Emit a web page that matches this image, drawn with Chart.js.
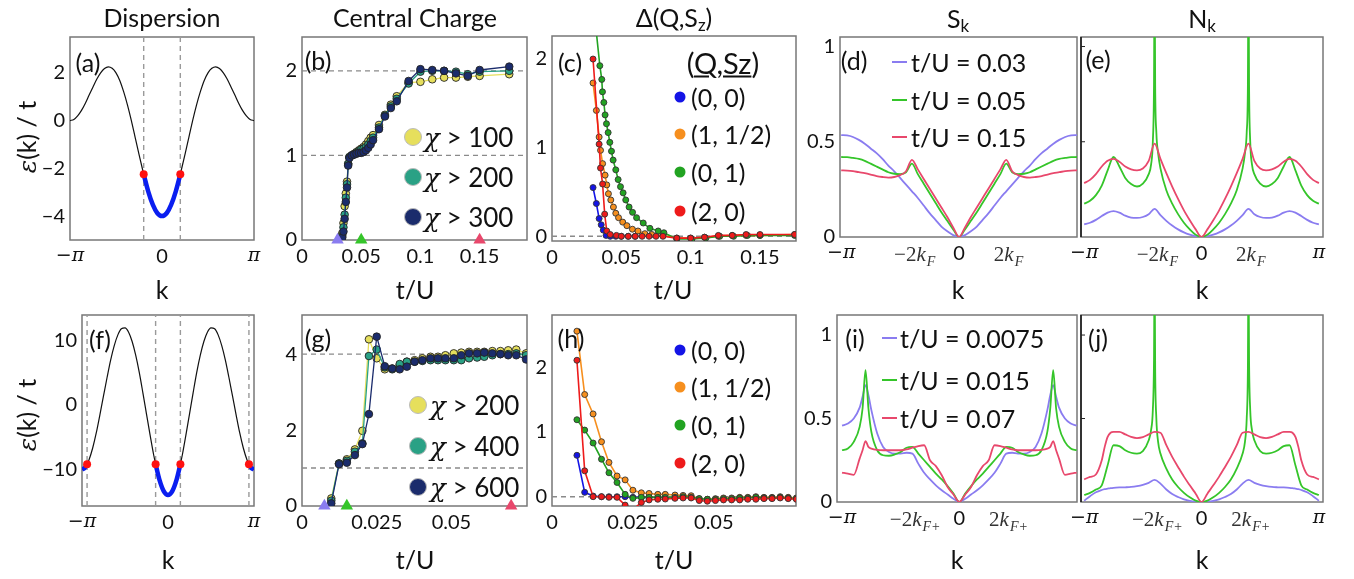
<!DOCTYPE html>
<html><head><meta charset="utf-8">
<script src="https://cdn.jsdelivr.net/npm/chart.js@4.4.1/dist/chart.umd.min.js"></script>
<style>
html,body{margin:0;padding:0;background:#fff;}
#root{position:relative;width:1354px;height:579px;overflow:hidden;font-family:Lato,sans-serif;color:#111;}
canvas{position:absolute;}
.t{position:absolute;transform:translate(-50%,-50%);white-space:nowrap;line-height:1;}
.t sub{font-size:68%;vertical-align:-0.28em;}
.lg{position:absolute;white-space:nowrap;line-height:1;transform:translateY(-50%);}
.dot{position:absolute;border-radius:50%;transform:translate(-50%,-50%);}
.seg{position:absolute;height:2px;transform:translateY(-50%);}
</style></head><body><div id="root"></div>
<script>
// ---------------- DATA ----------------
// dispersion grids (k in units of pi)
const kA = [-1,-0.958,-0.917,-0.875,-0.833,-0.792,-0.75,-0.708,-0.667,-0.625,-0.583,-0.542,-0.5,-0.458,-0.417,-0.375,-0.333,-0.292,-0.25,-0.208,-0.167,-0.125,-0.083,-0.042,0,0.042,0.083,0.125,0.167,0.208,0.25,0.292,0.333,0.375,0.417,0.458,0.5,0.542,0.583,0.625,0.667,0.708,0.75,0.792,0.833,0.875,0.917,0.958,1];
const epsA = [0,0.05,0.2,0.43,0.73,1.07,1.41,1.74,2,2.18,2.25,2.19,2,1.67,1.21,0.65,0,-0.7,-1.41,-2.1,-2.73,-3.26,-3.66,-3.91,-4,-3.91,-3.66,-3.26,-2.73,-2.1,-1.41,-0.7,0,0.65,1.21,1.67,2,2.19,2.25,2.18,2,1.74,1.41,1.07,0.73,0.43,0.2,0.05,0];
const blueAk = [-0.199,-0.15,-0.1,-0.05,0,0.05,0.1,0.15,0.199];
const blueAe = [-2.25,-2.96,-3.52,-3.88,-4,-3.88,-3.52,-2.96,-2.25];
const kFa = [-0.199,0.199];
const kFaE = [-2.25,-2.25];
const epsF = [-10,-9.61,-8.46,-6.64,-4.27,-1.52,1.41,4.32,7,9.25,10.91,11.85,12,11.33,9.88,7.72,5,1.89,-1.41,-4.69,-7.73,-10.33,-12.32,-13.57,-14,-13.57,-12.32,-10.33,-7.73,-4.69,-1.41,1.89,5,7.72,9.88,11.33,12,11.85,10.91,9.25,7,4.32,1.41,-1.52,-4.27,-6.64,-8.46,-9.61,-10];
const blueFk = [-0.144,-0.1,-0.05,0,0.05,0.1,0.144];
const blueFe = [-9.21,-11.61,-13.39,-14,-13.39,-11.61,-9.21];
const blueFLk = [-1,-0.97,-0.941];
const blueFLe = [-10,-9.8,-9.21];
const blueFRk = [0.941,0.97,1];
const blueFRe = [-9.21,-9.8,-10];
const kFf = [-0.941,-0.144,0.144,0.941];
const kFfE = [-9.21,-9.21,-9.21,-9.21];

// central charge
const chiB = [100,200,300];
const chiG = [200,400,600];
const ccColors = ['#e6df5c','#2aa185','#1b2c6c'];
const ccTB = [0.034,0.035,0.036,0.037,0.038,0.039,0.040,0.042,0.044,0.046,0.048,0.050,0.052,0.054,0.056,0.058,0.060,0.065,0.070,0.075,0.080,0.090,0.100,0.110,0.120,0.130,0.140,0.150,0.175];
const ccYellowB = [0.08,0.2,0.4,0.55,0.69,0.9,0.98,1.0,1.02,1.04,1.06,1.08,1.1,1.13,1.17,1.21,1.24,1.36,1.48,1.6,1.7,1.86,1.87,1.9,1.92,1.92,1.93,1.94,1.96];
const ccTealB = [0.05,0.15,0.3,0.5,0.66,0.9,0.98,1.0,1.01,1.03,1.05,1.07,1.08,1.1,1.13,1.17,1.21,1.33,1.47,1.58,1.67,1.85,1.99,2.0,2.0,1.99,1.96,1.99,2.0];
const ccNavyB = [0.03,0.1,0.25,0.45,0.62,0.88,0.97,1.0,1.01,1.02,1.03,1.03,1.04,1.06,1.09,1.13,1.18,1.31,1.46,1.56,1.64,1.88,2.02,2.01,2.0,1.97,1.94,2.01,2.05];
const ccTG = [0.0098,0.0124,0.015,0.0177,0.0202,0.0224,0.025,0.0277,0.0302,0.0327,0.0351,0.0377,0.0403,0.043,0.0455,0.048,0.0508,0.0533,0.0559,0.0586,0.061,0.0637,0.0664,0.069,0.0717,0.075];
const ccYellowG = [0.2,1.12,1.23,1.49,1.98,4.39,3.89,3.6,3.62,3.71,3.8,3.84,3.89,3.93,3.93,3.97,4.02,4.04,4.06,4.06,4.06,4.08,4.08,4.1,4.12,4.02];
const ccTealG = [0.14,1.12,1.19,1.43,1.65,3.95,4.12,3.65,3.6,3.74,3.8,3.8,3.82,3.84,3.84,3.84,3.84,3.84,3.89,3.91,3.93,3.97,4.0,4.0,4.02,3.97];
const ccNavyG = [0.07,1.1,1.14,1.34,1.63,2.42,4.46,3.68,3.62,3.6,3.67,3.8,3.84,3.89,3.89,3.89,3.89,3.97,4.02,4.02,4.04,4.02,4.0,3.97,3.97,3.86];
const refB = [1,2];
const refG = [1,4];
const markersB = [0.03,0.05,0.15];
const markersG = [0.0075,0.015,0.07];
const markerColors = ['#8a7cf0','#35c52a','#e8486c'];

// gaps
const gapLabels = ['(0, 0)','(1, 1/2)','(0, 1)','(2, 0)'];
const gapColors = ['#1414e6','#f68f1e','#22a322','#ee1b1b'];
const gapBlueTC = [0.0296,0.032,0.034,0.0355,0.037,0.039,0.042,0.046,0.050,0.055,0.060];
const gapBlueC = [0.55,0.37,0.2,0.13,0.07,0.01,0.0,0.0,0.0,0.0,0.0];
const gapOrangeTC = [0.0296,0.032,0.034,0.035,0.0365,0.0383,0.0395,0.0407,0.0424,0.0443,0.046,0.048,0.051,0.054,0.058,0.062,0.067,0.072,0.080,0.090,0.100,0.110,0.120,0.130,0.140,0.150,0.175];
const gapOrangeC = [1.73,1.42,1.12,0.97,0.82,0.69,0.58,0.48,0.41,0.33,0.26,0.21,0.16,0.12,0.08,0.06,0.03,0.02,0.01,-0.02,-0.02,-0.01,0.0,0.01,0.01,0.01,0.02];
const gapGreenTC = [0.031,0.0345,0.0359,0.0364,0.0374,0.0383,0.0393,0.0405,0.0417,0.0429,0.0441,0.046,0.0477,0.0494,0.0513,0.0532,0.0556,0.0581,0.061,0.0658,0.0706,0.0766,0.0807,0.090,0.101,0.111,0.121,0.131,0.141,0.150,0.175];
const gapGreenC = [2.45,1.925,1.77,1.63,1.51,1.37,1.27,1.17,1.06,0.96,0.86,0.75,0.64,0.56,0.49,0.41,0.33,0.27,0.21,0.15,0.09,0.06,0.04,-0.03,-0.03,-0.02,0.0,0.0,0.01,0.01,0.01];
const gapRedTC = [0.0296,0.034,0.035,0.0365,0.038,0.0395,0.042,0.0465,0.050,0.055,0.060,0.065,0.070,0.075,0.080,0.090,0.100,0.110,0.120,0.130,0.140,0.150,0.175];
const gapRedC = [2.0,1.04,0.77,0.59,0.25,0.06,0.02,0.01,0.0,0.0,0.0,0.0,0.0,0.0,0.0,-0.02,-0.02,-0.01,0.01,0.01,0.02,0.02,0.02];
const gapBlueTH = [0.0077,0.0101,0.0127,0.0153,0.0176,0.0201,0.0226,0.025,0.0276,0.030];
const gapBlueH = [0.64,0.067,0.01,0.0,0.0,0.0,0.0,-0.01,-0.01,-0.01];
const gapTH = [0.0077,0.0101,0.0127,0.0153,0.0176,0.0201,0.0226,0.025,0.0276,0.030,0.0327,0.035,0.038,0.0405,0.043,0.0455,0.048,0.0505,0.053,0.0555,0.058,0.0605,0.063,0.0655,0.068,0.0705,0.073,0.0755];
const gapOrangeH = [2.56,1.58,1.28,0.85,0.53,0.32,0.26,0.10,0.06,0.05,0.036,0.036,0.026,0.02,0.015,-0.03,-0.04,-0.03,-0.02,-0.02,-0.01,-0.01,0.0,-0.01,-0.01,0.0,-0.01,-0.02];
const gapGreenH = [1.19,1.03,0.83,0.58,0.37,0.22,0.036,-0.026,-0.01,-0.01,-0.01,-0.01,-0.01,0.0,-0.01,-0.03,-0.04,-0.04,-0.03,-0.03,-0.02,-0.02,-0.01,-0.02,-0.02,-0.01,-0.02,-0.03];
const gapRedH = [2.11,0.40,0.0,0.0,-0.01,-0.01,-0.13,-0.2,-0.09,-0.05,-0.04,-0.036,-0.026,-0.02,-0.02,-0.06,-0.07,-0.06,-0.05,-0.05,-0.05,-0.04,-0.04,-0.03,-0.03,-0.02,-0.03,-0.04];

// structure factors (k in units of pi)
const skColors = ['#8a7cf0','#35c52a','#e8486c'];
const tuTop = ['0.03','0.05','0.15'];
const tuBot = ['0.0075','0.015','0.07'];
const kG = [-1,-0.95,-0.9,-0.85,-0.8,-0.75,-0.7,-0.65,-0.6,-0.55,-0.5,-0.45,-0.4,-0.35,-0.3,-0.25,-0.2,-0.15,-0.1,-0.05,0,0.05,0.1,0.15,0.2,0.25,0.3,0.35,0.4,0.45,0.5,0.55,0.6,0.65,0.7,0.75,0.8,0.85,0.9,0.95,1];
const skPurpleD = [0.535,0.533,0.525,0.51,0.49,0.465,0.44,0.41,0.375,0.345,0.31,0.275,0.24,0.205,0.165,0.125,0.09,0.055,0.03,0.01,0,0.01,0.03,0.055,0.09,0.125,0.165,0.205,0.24,0.275,0.31,0.345,0.375,0.41,0.44,0.465,0.49,0.51,0.525,0.533,0.535];
const skGreenD = [0.42,0.419,0.415,0.41,0.4,0.385,0.37,0.355,0.34,0.332,0.33,0.34,0.385,0.33,0.28,0.23,0.18,0.13,0.085,0.04,0,0.04,0.085,0.13,0.18,0.23,0.28,0.33,0.385,0.34,0.33,0.332,0.34,0.355,0.37,0.385,0.4,0.41,0.415,0.419,0.42];
const skRedD = [0.35,0.349,0.346,0.34,0.335,0.328,0.32,0.315,0.312,0.315,0.325,0.345,0.405,0.355,0.305,0.255,0.205,0.155,0.105,0.05,0,0.05,0.105,0.155,0.205,0.255,0.305,0.355,0.405,0.345,0.325,0.315,0.312,0.315,0.32,0.328,0.335,0.34,0.346,0.349,0.35];
const nkPurpleE = [0.066,0.075,0.09,0.11,0.128,0.136,0.128,0.112,0.102,0.1,0.105,0.12,0.148,0.115,0.085,0.06,0.04,0.024,0.012,0.003,0,0.003,0.012,0.024,0.04,0.06,0.085,0.115,0.148,0.12,0.105,0.1,0.102,0.112,0.128,0.136,0.128,0.11,0.09,0.075,0.066];
const nkRedE = [0.283,0.3,0.33,0.37,0.4,0.41,0.395,0.37,0.355,0.35,0.36,0.4,0.49,0.41,0.335,0.265,0.2,0.14,0.088,0.04,0,0.04,0.088,0.14,0.2,0.265,0.335,0.41,0.49,0.4,0.36,0.35,0.355,0.37,0.395,0.41,0.4,0.37,0.33,0.3,0.283];
const kSpike = [-1,-0.95,-0.9,-0.85,-0.8,-0.75,-0.7,-0.65,-0.6,-0.55,-0.5,-0.45,-0.43,-0.415,-0.405,-0.4,-0.395,-0.385,-0.37,-0.35,-0.3,-0.25,-0.2,-0.15,-0.1,-0.05,0,0.05,0.1,0.15,0.2,0.25,0.3,0.35,0.37,0.385,0.395,0.4,0.405,0.415,0.43,0.45,0.5,0.55,0.6,0.65,0.7,0.75,0.8,0.85,0.9,0.95,1];
const nkGreenE = [0.175,0.19,0.22,0.27,0.35,0.42,0.37,0.31,0.278,0.265,0.28,0.33,0.38,0.5,0.8,1.4,0.8,0.55,0.44,0.36,0.245,0.175,0.12,0.075,0.04,0.012,0,0.012,0.04,0.075,0.12,0.175,0.245,0.36,0.44,0.55,0.8,1.4,0.8,0.5,0.38,0.33,0.28,0.265,0.278,0.31,0.37,0.42,0.35,0.27,0.22,0.19,0.175];
const kIJ = [-1,-0.95,-0.9,-0.85,-0.825,-0.8,-0.775,-0.75,-0.7,-0.65,-0.6,-0.55,-0.5,-0.45,-0.4,-0.35,-0.3,-0.25,-0.2,-0.15,-0.1,-0.05,0,0.05,0.1,0.15,0.2,0.25,0.3,0.35,0.4,0.45,0.5,0.55,0.6,0.65,0.7,0.75,0.775,0.8,0.825,0.85,0.9,0.95,1];
const skPurpleI = [0.457,0.47,0.5,0.565,0.63,0.7,0.64,0.55,0.41,0.33,0.3,0.29,0.29,0.295,0.29,0.23,0.175,0.135,0.1,0.07,0.045,0.02,0,0.02,0.045,0.07,0.1,0.135,0.175,0.23,0.29,0.295,0.29,0.29,0.3,0.33,0.41,0.55,0.64,0.7,0.63,0.565,0.5,0.47,0.457];
const skGreenI = [0.31,0.32,0.36,0.45,0.56,0.79,0.56,0.42,0.31,0.28,0.277,0.285,0.3,0.325,0.33,0.29,0.25,0.21,0.17,0.135,0.095,0.05,0,0.05,0.095,0.135,0.17,0.21,0.25,0.29,0.33,0.325,0.3,0.285,0.277,0.28,0.31,0.42,0.56,0.79,0.56,0.45,0.36,0.32,0.31];
const skRedI = [0.176,0.17,0.163,0.26,0.31,0.365,0.33,0.32,0.312,0.31,0.31,0.31,0.31,0.315,0.325,0.335,0.34,0.25,0.215,0.16,0.09,0.045,0,0.045,0.09,0.16,0.215,0.25,0.34,0.335,0.325,0.315,0.31,0.31,0.31,0.31,0.312,0.32,0.33,0.365,0.31,0.26,0.163,0.17,0.176];
const nkPurpleJ = [0.008,0.035,0.058,0.072,0.077,0.08,0.083,0.085,0.087,0.088,0.09,0.095,0.103,0.115,0.132,0.11,0.075,0.048,0.03,0.016,0.007,0.002,0,0.002,0.007,0.016,0.03,0.048,0.075,0.11,0.132,0.115,0.103,0.095,0.09,0.088,0.087,0.085,0.083,0.08,0.077,0.072,0.058,0.035,0.008];
const nkRedJ = [0.136,0.15,0.165,0.25,0.33,0.39,0.415,0.42,0.42,0.405,0.39,0.383,0.388,0.405,0.42,0.415,0.34,0.27,0.21,0.152,0.1,0.05,0,0.05,0.1,0.152,0.21,0.27,0.34,0.415,0.42,0.405,0.388,0.383,0.39,0.405,0.42,0.42,0.415,0.39,0.33,0.25,0.165,0.15,0.136];
const nkGreenJ = [0.042,0.055,0.075,0.1,0.22,0.34,0.335,0.31,0.295,0.29,0.305,0.37,0.43,0.55,0.85,1.4,0.8,0.5,0.36,0.29,0.2,0.135,0.09,0.055,0.028,0.008,0,0.008,0.028,0.055,0.09,0.135,0.2,0.29,0.36,0.5,0.8,1.4,0.85,0.55,0.43,0.37,0.305,0.29,0.295,0.31,0.335,0.34,0.22,0.1,0.075,0.055,0.042];

// ticks
const ticksXpi = [-1,0,1]; const labelsXpi = ['−π','0','π'];
const ticksYA = [-4,-2,0,2]; const labelsYA = ['−4','−2','0','2'];
const ticksYF = [-10,0,10]; const labelsYF = ['−10','0','10'];
const ticksXB = [0,0.05,0.1,0.15]; const labelsXB = ['0','0.05','0.1','0.15'];
const ticksY012 = [0,1,2]; const labelsY012 = ['0','1','2'];
const ticksXG = [0,0.025,0.05]; const labelsXG = ['0','0.025','0.05'];
const ticksYG = [0,2,4]; const labelsYG = ['0','2','4'];
const ticksXD = [-1,-0.398,0,0.398]; const labelsXD = ['−π','','0',''];
const ticksXE = [-1,-0.398,0,0.398,1]; const labelsXE = ['−π','','0','','π'];
const ticksYS = [0,0.5,1]; const labelsYS = ['0','0.5','1'];
const kfTicks = [-0.398,0.398]; const kfPre = ['−2','2'];

// ---------------- HELPERS ----------------
const root = document.getElementById('root');
const pts = (xs, ys) => xs.map((x, i) => ({x, y: ys[i]}));
const PAD = {l: 62, t: 22, r: 28, b: 40};
const TICKFONT = {family: 'Lato', size: 20};
const PIFONT = {family: '"DejaVu Serif", serif', size: 19, style: 'italic'};

const framePlugin = {id: 'frame', beforeDatasetsDraw(chart, a, o) {
  const c = chart.ctx, A = chart.chartArea;
  c.save(); c.strokeStyle = o.color || '#777'; c.lineWidth = 1.5;
  c.strokeRect(A.left, A.top, A.right - A.left, A.bottom - A.top);
  if (o.leftColor) { c.strokeStyle = o.leftColor; c.beginPath(); c.moveTo(A.left, A.top); c.lineTo(A.left, A.bottom); c.stroke(); }
  if (o.yMarks) { c.strokeStyle = '#222'; c.lineWidth = 1; o.yMarks.forEach(v => { const y = chart.scales.y.getPixelForValue(v); c.beginPath(); c.moveTo(A.left, y); c.lineTo(A.left + 4, y); c.stroke(); }); }
  c.restore();
}};
const kfPlugin = {id: 'kf', afterDraw(chart, a, o) {
  if (!o.items) return;
  const c = chart.ctx, xs = chart.scales.x, y0 = chart.chartArea.bottom + 24;
  o.items.forEach(it => {
    const cx = xs.getPixelForValue(it.v);
    c.save(); c.fillStyle = '#333'; c.textBaseline = 'alphabetic';
    const f1 = '21px "Liberation Serif", serif', f2 = 'italic 21px "Liberation Serif", serif', f3 = 'italic 14px "Liberation Serif", serif';
    c.font = f1; const w1 = c.measureText(it.pre).width;
    c.font = f2; const w2 = c.measureText('k').width;
    c.font = f3; const w3 = c.measureText(it.sub).width;
    let x = cx - (w1 + w2 + w3) / 2 + 2;
    c.font = f1; c.fillText(it.pre, x, y0); x += w1;
    c.font = f2; c.fillText('k', x, y0); x += w2 + 1;
    c.font = f3; c.fillText(it.sub, x, y0 + 5);
    c.restore();
  });
}};

function makeChart(box, cfg) {
  const cv = document.createElement('canvas');
  const w = box[2] - box[0] + PAD.l + PAD.r, h = box[3] - box[1] + PAD.t + PAD.b;
  cv.width = w; cv.height = h;
  cv.style.left = (box[0] - PAD.l) + 'px'; cv.style.top = (box[1] - PAD.t) + 'px';
  cv.style.width = w + 'px'; cv.style.height = h + 'px';
  root.appendChild(cv);
  cfg.datasets.forEach((d, i) => { if (d.order === undefined) d.order = -i; });
  return new Chart(cv, {
    type: 'scatter',
    data: {datasets: cfg.datasets},
    plugins: [framePlugin, kfPlugin],
    options: {
      responsive: false, animation: false, devicePixelRatio: 1,
      layout: {padding: {top: PAD.t, right: PAD.r, left: 0, bottom: 0}},
      plugins: {legend: {display: false}, tooltip: {enabled: false},
        frame: {color: cfg.frameColor || '#777', leftColor: cfg.leftColor, yMarks: cfg.yMarks},
        kf: {items: cfg.kf}},
      scales: {
        x: {type: 'linear', min: cfg.xr[0], max: cfg.xr[1],
          afterFit: s => { s.height = PAD.b; },
          afterBuildTicks: s => { s.ticks = cfg.xt.map(v => ({value: v})); },
          ticks: {callback: (v, i) => cfg.xl[i],
            font: ctx => (String(cfg.xl[ctx.index] || '').indexOf('π') >= 0 ? PIFONT : TICKFONT),
            color: '#111', padding: 5, maxRotation: 0, minRotation: 0, autoSkip: false},
          grid: {display: false, drawTicks: false}, border: {display: false}},
        y: {type: 'linear', min: cfg.yr[0], max: cfg.yr[1],
          afterFit: s => { s.width = PAD.l; },
          afterBuildTicks: s => { s.ticks = (cfg.yt || []).map(v => ({value: v})); },
          ticks: {display: !!cfg.yt, callback: (v, i) => cfg.yl[i], font: TICKFONT, color: '#111', padding: 5, autoSkip: false},
          grid: {display: false, drawTicks: false}, border: {display: false}}
      }
    }
  });
}
function curve(xs, ys, color, width, extra) {
  return Object.assign({data: pts(xs, ys), showLine: true, borderColor: color, backgroundColor: color, borderWidth: width, pointRadius: 0, cubicInterpolationMode: 'monotone'}, extra || {});
}
function dashedV(xs, yr) {
  return xs.map(x => ({data: [{x, y: yr[0]}, {x, y: yr[1]}], showLine: true, borderColor: '#9a9a9a', borderWidth: 1.4, borderDash: [5, 4], pointRadius: 0}));
}
function dashedH(ys, xr) {
  return ys.map(y => ({data: [{x: xr[0], y}, {x: xr[1], y}], showLine: true, borderColor: '#8a8a8a', borderWidth: 1.4, borderDash: [5, 4], pointRadius: 0}));
}
function ccSeries(xs, ys, color) {
  return {data: pts(xs, ys), showLine: true, borderColor: color, borderWidth: 1.3, pointRadius: 3.8, pointBackgroundColor: color, pointBorderColor: '#222', pointBorderWidth: 0.9};
}
function gapSeries(xs, ys, color) {
  return {data: pts(xs, ys), showLine: true, borderColor: color, borderWidth: 1.6, pointRadius: 3, pointBackgroundColor: color, pointBorderColor: '#333', pointBorderWidth: 0.9};
}
function triMarkers(xs) {
  return {data: xs.map(x => ({x, y: 0})), pointStyle: 'triangle', pointRadius: 7.2, pointBackgroundColor: markerColors, pointBorderWidth: 0, showLine: false, clip: false};
}
function text(html, x, y, size, cls, extraStyle) {
  const d = document.createElement('div');
  d.className = cls || 't'; d.innerHTML = html;
  d.style.left = x + 'px'; d.style.top = y + 'px'; d.style.fontSize = size + 'px';
  if (extraStyle) d.setAttribute('style', d.getAttribute('style') + ';' + extraStyle);
  root.appendChild(d); return d;
}

// ---------------- PANELS ----------------
// (a)
const yrA = [-5, 3.5];
makeChart([70, 37, 254, 240], {xr: [-1, 1], yr: yrA, xt: ticksXpi, xl: labelsXpi, yt: ticksYA, yl: labelsYA,
  datasets: [...dashedV(kFa, yrA), curve(kA, epsA, '#111', 1.2), curve(blueAk, blueAe, '#0a1ef0', 4.5),
    {data: pts(kFa, kFaE), pointRadius: 4, pointBackgroundColor: '#ff1010', pointBorderWidth: 0}]});
// (f)
const yrF = [-15.7, 14];
makeChart([82, 315, 254, 506], {xr: [-1, 1], yr: yrF, xt: ticksXpi, xl: labelsXpi, yt: ticksYF, yl: labelsYF,
  datasets: [...dashedV(kFf, yrF), curve(kA, epsF, '#111', 1.2), curve(blueFk, blueFe, '#0a1ef0', 4.5),
    curve(blueFLk, blueFLe, '#0a1ef0', 4.5), curve(blueFRk, blueFRe, '#0a1ef0', 4.5),
    {data: pts(kFf, kFfE), pointRadius: 4, pointBackgroundColor: '#ff1010', pointBorderWidth: 0}]});
// (b)
const xrB = [0, 0.19];
makeChart([302, 37, 527, 240], {xr: xrB, yr: [0, 2.4], xt: ticksXB, xl: labelsXB, yt: ticksY012, yl: labelsY012,
  datasets: [...dashedH(refB, xrB), ccSeries(ccTB, ccYellowB, ccColors[0]), ccSeries(ccTB, ccTealB, ccColors[1]), ccSeries(ccTB, ccNavyB, ccColors[2]), triMarkers(markersB)]});
// (g)
const xrG = [0, 0.0753];
makeChart([302, 315, 527, 506], {xr: xrG, yr: [0, 5.03], xt: ticksXG, xl: labelsXG, yt: ticksYG, yl: labelsYG,
  datasets: [...dashedH(refG, xrG), ccSeries(ccTG, ccYellowG, ccColors[0]), ccSeries(ccTG, ccTealG, ccColors[1]), ccSeries(ccTG, ccNavyG, ccColors[2]), triMarkers(markersG)]});
// (c)
const xrC = [0, 0.176];
makeChart([552, 36, 796, 241], {xr: xrC, yr: [-0.053, 2.26], xt: ticksXB, xl: labelsXB, yt: ticksY012, yl: labelsY012,
  datasets: [...dashedH([0], xrC), gapSeries(gapBlueTC, gapBlueC, gapColors[0]), gapSeries(gapOrangeTC, gapOrangeC, gapColors[1]),
    gapSeries(gapGreenTC, gapGreenC, gapColors[2]), gapSeries(gapRedTC, gapRedC, gapColors[3])]});
// (h)
const xrH = [0, 0.0754];
makeChart([552, 315, 796, 506], {xr: xrH, yr: [-0.144, 2.81], xt: ticksXG, xl: labelsXG, yt: ticksY012, yl: labelsY012,
  datasets: [...dashedH([0], xrH), gapSeries(gapBlueTH, gapBlueH, gapColors[0]), gapSeries(gapTH, gapOrangeH, gapColors[1]),
    gapSeries(gapTH, gapGreenH, gapColors[2]), gapSeries(gapTH, gapRedH, gapColors[3])]});
// (d)
makeChart([840, 37, 1077, 237], {xr: [-1.01, 1.0], yr: [0, 1.05], xt: ticksXD, xl: labelsXD, yt: ticksYS, yl: labelsYS,
  kf: kfTicks.map((v, i) => ({v, pre: kfPre[i], sub: 'F'})),
  datasets: [curve(kG, skPurpleD, skColors[0], 1.8), curve(kG, skGreenD, skColors[1], 1.8), curve(kG, skRedD, skColors[2], 1.8)]});
// (e)
makeChart([1081, 37, 1323, 237], {xr: [-1.027, 1.035], yr: [0, 1.05], xt: ticksXE, xl: labelsXE, yMarks: [0.5, 1],
  leftColor: '#111', kf: kfTicks.map((v, i) => ({v, pre: kfPre[i], sub: 'F'})),
  datasets: [curve(kG, nkPurpleE, skColors[0], 1.8), curve(kSpike, nkGreenE, skColors[1], 1.8), curve(kG, nkRedE, skColors[2], 1.8)]});
// (i)
makeChart([837, 315, 1077, 502], {xr: [-1.043, 1.003], yr: [0, 1.12], xt: ticksXD, xl: labelsXD, yt: ticksYS, yl: labelsYS,
  kf: kfTicks.map((v, i) => ({v, pre: kfPre[i], sub: 'F+'})),
  datasets: [curve(kIJ, skPurpleI, skColors[0], 1.8), curve(kIJ, skGreenI, skColors[1], 1.8), curve(kIJ, skRedI, skColors[2], 1.8)]});
// (j)
makeChart([1081, 315, 1323, 502], {xr: [-1.027, 1.035], yr: [0, 1.12], xt: ticksXE, xl: labelsXE, yMarks: [0.5, 1],
  leftColor: '#111', kf: kfTicks.map((v, i) => ({v, pre: kfPre[i], sub: 'F+'})),
  datasets: [curve(kIJ, nkPurpleJ, skColors[0], 1.8), curve(kSpike, nkGreenJ, skColors[1], 1.8), curve(kIJ, nkRedJ, skColors[2], 1.8)]});

// ---------------- TEXT ----------------
text('Dispersion', 162, 17, 25);
text('Central Charge', 415, 17, 25);
text('Δ(Q,S<sub>z</sub>)', 674, 19, 25);
text('S<sub>k</sub>', 958, 20, 25);
text('N<sub>k</sub>', 1202, 20, 25);
[['(a)',88,62],['(b)',318,60],['(c)',570,62],['(d)',854,60],['(e)',1098,59],['(f)',100,339],['(g)',318,338],['(h)',571,338],['(i)',855,338],['(j)',1098,338]]
  .forEach(p => text(p[0], p[1], p[2], 25));
[['k',162,289],['t/U',415,289],['t/U',673,289],['k',958,289],['k',1202,289],['k',168,559],['t/U',415,559],['t/U',674,559],['k',957,559],['k',1202,559]]
  .forEach(p => text(p[0], p[1], p[2], 25));
text('<i style="font-family:\'DejaVu Serif\',serif">ε</i>(k) / t', 27, 137, 25, 't', 'transform:translate(-50%,-50%) rotate(-90deg)');
text('<i style="font-family:\'DejaVu Serif\',serif">ε</i>(k) / t', 27, 415, 25, 't', 'transform:translate(-50%,-50%) rotate(-90deg)');

// legends
function ccLegend(chis, x, ys, tx) {
  chis.forEach((c, i) => {
    const d = document.createElement('div'); d.className = 'dot';
    d.style.cssText = `left:${x}px;top:${ys[i]}px;width:16px;height:16px;background:${ccColors[i]};border:1px solid #bbb;`;
    root.appendChild(d);
    text('<i style="font-family:\'DejaVu Serif\',serif">χ</i> &gt; ' + c, tx, ys[i], 26, 'lg');
  });
}
ccLegend(chiB, 413, [137, 177, 217], 424);
ccLegend(chiG, 418, [405, 446, 487], 430);
function gapLegend(x, ys, tx) {
  gapLabels.forEach((l, i) => {
    const d = document.createElement('div'); d.className = 'dot';
    d.style.cssText = `left:${x}px;top:${ys[i]}px;width:11px;height:11px;background:${gapColors[i]};`;
    root.appendChild(d);
    text(l, tx, ys[i], 25, 'lg');
  });
}
text('(<u>Q,Sz</u>)', 723, 62, 29);
gapLegend(680, [97, 134, 172, 211], 691);
gapLegend(680, [350, 387, 425, 463], 691);
function skLegend(vals, x0, x1, ys, tx) {
  vals.forEach((v, i) => {
    const s = document.createElement('div'); s.className = 'seg';
    s.style.cssText = `left:${x0}px;top:${ys[i]}px;width:${x1 - x0}px;background:${skColors[i]};`;
    root.appendChild(s);
    text('t/U = ' + v, tx, ys[i], 25, 'lg');
  });
}
skLegend(tuTop, 892, 907, [62, 100, 137], 911);
skLegend(tuBot, 882, 897, [338, 380, 418], 900);
</script></body></html>
